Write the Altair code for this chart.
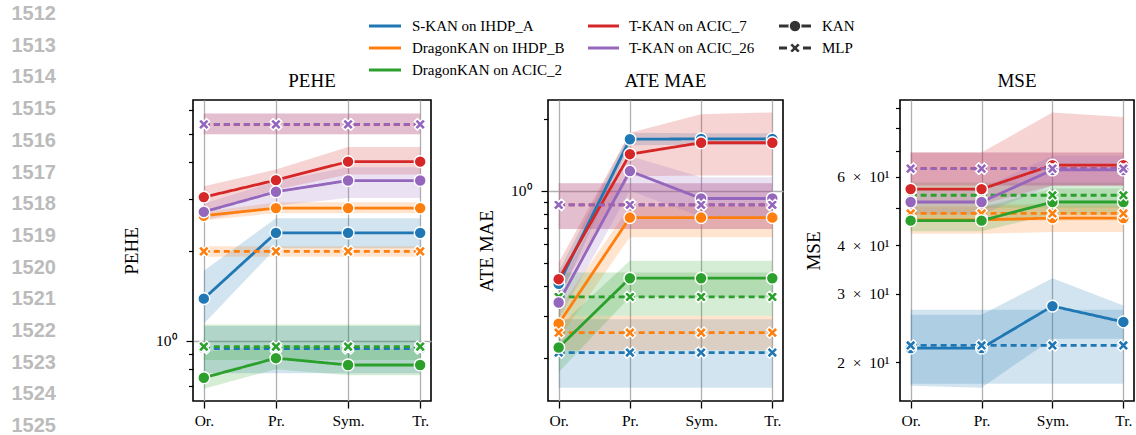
import altair as alt
import pandas as pd

STAGES = ["Or.", "Pr.", "Sym.", "Tr."]
DATASETS = [
    "S-KAN on IHDP_A",
    "DragonKAN on IHDP_B",
    "DragonKAN on ACIC_2",
    "T-KAN on ACIC_7",
    "T-KAN on ACIC_26",
]
COLORS = ["#1f77b4", "#ff7f0e", "#2ca02c", "#d62728", "#9467bd"]
MODELS = ["KAN", "MLP"]

# ---- PEHE (rows follow DATASETS, columns follow STAGES) ----
PEHE_KAN_MEAN = [
    [1.385, 2.31, 2.31, 2.31],
    [2.64, 2.80, 2.80, 2.80],
    [0.749, 0.872, 0.827, 0.827],
    [3.05, 3.48, 4.02, 4.02],
    [2.72, 3.18, 3.47, 3.47],
]
PEHE_KAN_LO = [
    [1.14, 2.05, 2.05, 2.05],
    [2.55, 2.69, 2.69, 2.69],
    [0.688, 0.80, 0.763, 0.763],
    [2.73, 3.23, 3.64, 3.64],
    [2.55, 2.85, 3.03, 3.03],
]
PEHE_KAN_HI = [
    [1.72, 2.59, 2.59, 2.59],
    [2.72, 2.93, 2.93, 2.93],
    [0.915, 0.97, 0.94, 0.94],
    [3.32, 3.78, 4.50, 4.50],
    [2.90, 3.45, 3.85, 3.85],
]
PEHE_MLP_MEAN = [[0.94] * 4, [2.00] * 4, [0.954] * 4, [5.37] * 4, [5.37] * 4]
PEHE_MLP_LO = [[0.775] * 4, [1.92] * 4, [0.86] * 4, [4.97] * 4, [4.97] * 4]
PEHE_MLP_HI = [[1.12] * 4, [2.08] * 4, [1.133] * 4, [5.84] * 4, [5.84] * 4]

# ---- ATE MAE ----
ATE_KAN_MEAN = [
    [0.408, 1.645, 1.65, 1.65],
    [0.278, 0.773, 0.773, 0.773],
    [0.221, 0.431, 0.431, 0.431],
    [0.427, 1.424, 1.59, 1.59],
    [0.341, 1.21, 0.929, 0.929],
]
ATE_KAN_LO = [
    [0.35, 1.55, 1.56, 1.56],
    [0.24, 0.64, 0.64, 0.64],
    [0.174, 0.36, 0.36, 0.36],
    [0.37, 1.15, 1.16, 1.16],
    [0.29, 1.00, 0.78, 0.78],
]
ATE_KAN_HI = [
    [0.46, 1.75, 1.74, 1.74],
    [0.32, 0.86, 0.86, 0.86],
    [0.27, 0.51, 0.51, 0.51],
    [0.50, 1.75, 2.09, 2.13],
    [0.40, 1.40, 1.14, 1.14],
]
ATE_MLP_MEAN = [[0.2105] * 4, [0.255] * 4, [0.36] * 4, [0.874] * 4, [0.874] * 4]
ATE_MLP_LO = [[0.15] * 4, [0.215] * 4, [0.30] * 4, [0.692] * 4, [0.692] * 4]
ATE_MLP_HI = [[0.29] * 4, [0.30] * 4, [0.455] * 4, [1.077] * 4, [1.077] * 4]

# ---- MSE ----
MSE_KAN_MEAN = [
    [21.75, 21.75, 27.9, 25.4],
    [46.5, 46.5, 47.0, 47.0],
    [46.3, 46.3, 51.7, 51.7],
    [55.8, 55.8, 64.3, 64.3],
    [51.7, 51.7, 62.5, 62.5],
]
MSE_KAN_LO = [
    [17.4, 17.2, 23.0, 23.0],
    [42.8, 42.8, 43.3, 43.3],
    [43.5, 43.5, 48.0, 48.0],
    [51.0, 51.0, 57.0, 57.0],
    [48.0, 48.0, 57.0, 57.0],
]
MSE_KAN_HI = [
    [26.5, 26.5, 32.9, 28.0],
    [51.0, 51.0, 51.0, 51.0],
    [50.0, 50.0, 56.0, 56.0],
    [69.3, 69.3, 87.9, 85.5],
    [56.0, 56.0, 68.0, 68.0],
]
MSE_MLP_MEAN = [[22.1] * 4, [48.3] * 4, [53.8] * 4, [63.0] * 4, [63.0] * 4]
MSE_MLP_LO = [[17.6] * 4, [46.3] * 4, [50.0] * 4, [57.0] * 4, [57.0] * 4]
MSE_MLP_HI = [[27.3] * 4, [50.3] * 4, [58.0] * 4, [69.3] * 4, [69.3] * 4]

LINE_NUMBERS = [str(n) for n in range(1512, 1526)]

METRICS = {
    "PEHE": {
        "KAN": (PEHE_KAN_MEAN, PEHE_KAN_LO, PEHE_KAN_HI),
        "MLP": (PEHE_MLP_MEAN, PEHE_MLP_LO, PEHE_MLP_HI),
    },
    "ATE MAE": {
        "KAN": (ATE_KAN_MEAN, ATE_KAN_LO, ATE_KAN_HI),
        "MLP": (ATE_MLP_MEAN, ATE_MLP_LO, ATE_MLP_HI),
    },
    "MSE": {
        "KAN": (MSE_KAN_MEAN, MSE_KAN_LO, MSE_KAN_HI),
        "MLP": (MSE_MLP_MEAN, MSE_MLP_LO, MSE_MLP_HI),
    },
}

rows = []
for metric, by_model in METRICS.items():
    for d_i, ds in enumerate(DATASETS):
        for model in MODELS:
            mean, lo, hi = by_model[model]
            for s_i, stage in enumerate(STAGES):
                rows.append(dict(metric=metric, dataset=ds, model=model, stage=stage,
                                 mean=mean[d_i][s_i], lo=lo[d_i][s_i], hi=hi[d_i][s_i]))
df = pd.DataFrame(rows)

SERIF = "Liberation Serif"
GRID = "#b0b0b0"
PLOT_H = 301
# filled "X" marker, in the unit square used by Vega symbol paths
X_PATH = ("M -0.5 -1 L 0 -0.5 L 0.5 -1 L 1 -0.5 L 0.5 0 L 1 0.5 L 0.5 1 "
          "L 0 0.5 L -0.5 1 L -1 0.5 L -0.5 0 L -1 -0.5 Z")
MARK_SIZES = [140, 125]

color = alt.Color("dataset:N", scale=alt.Scale(domain=DATASETS, range=COLORS), legend=None)


def panel(metric, domain, ticks, labels, major, width, title_x, label_pad):
    data = df[df.metric == metric]
    label_expr = " : ".join(f"datum.value == {v} ? '{t}'" for v, t in labels) + " : ''"

    x = alt.X("stage:N", sort=STAGES, scale=alt.Scale(type="point", padding=0.15),
              axis=alt.Axis(title=None, grid=True, gridColor=GRID, gridWidth=1.3,
                            domain=False, tickColor="black", tickSize=7, tickWidth=1.3,
                            labelFont=SERIF, labelFontSize=15.5, labelColor="black",
                            labelPadding=5, labelAngle=0))

    axis_kw = dict(values=ticks, labelExpr=label_expr, title=metric, titleFont=SERIF,
                   titleFontSize=19, titleFontWeight="normal", titleColor="black",
                   titleAngle=270, titleX=title_x, titleY=PLOT_H / 2, titleAlign="center",
                   titleBaseline="middle", domain=False, tickColor="black", tickWidth=1.2,
                   labelFont=SERIF, labelFontSize=15.5, labelColor="black",
                   labelPadding=label_pad, labelOverlap=False)
    if major is not None:
        test = f"datum.value == {major}"
        axis_kw.update(
            tickSize={"condition": {"test": test, "value": 7}, "value": 4.5},
            grid=True, gridColor=GRID, gridWidth=1.3,
            gridOpacity={"condition": {"test": test, "value": 1}, "value": 0},
        )
    else:
        axis_kw.update(tickSize=4.5, grid=False)
    yaxis = alt.Axis(**axis_kw)
    yscale = alt.Scale(type="log", domain=domain, nice=False)

    def y(field):
        return alt.Y(f"{field}:Q", scale=yscale, axis=yaxis)

    base = alt.Chart(data)
    band = base.mark_area(opacity=0.2).encode(
        x=x, y=y("lo"), y2="hi", color=color, detail="model:N")
    line = base.mark_line(strokeWidth=2.8).encode(
        x=x, y=y("mean"), color=color,
        strokeDash=alt.StrokeDash("model:N", scale=alt.Scale(domain=MODELS, range=[[1, 0], [6, 4]]),
                                  legend=None))
    pts = base.mark_point(filled=True, opacity=1, stroke="white", strokeWidth=1.4).encode(
        x=x, y=y("mean"), color=color,
        shape=alt.Shape("model:N", scale=alt.Scale(domain=MODELS, range=["circle", X_PATH]),
                        legend=None),
        size=alt.Size("model:N", scale=alt.Scale(domain=MODELS, range=MARK_SIZES), legend=None))

    return alt.layer(band, line, pts).properties(
        width=width, height=PLOT_H,
        title=alt.TitleParams(metric, font=SERIF, fontSize=19, fontWeight="normal",
                              color="black", anchor="middle", frame="group",
                              baseline="alphabetic", offset=-6),
        view=alt.ViewBackground(stroke="black", strokeWidth=1.6),
    )


SP = "\u2002"
p_pehe = panel("PEHE", [0.625, 6.49], [0.7, 0.8, 0.9, 1, 2, 3, 4, 5, 6],
               [(1, "10⁰")], 1, 238, -62, 10)
p_ate = panel("ATE MAE", [0.132, 2.40], [0.2, 0.3, 0.4, 0.5, 0.6, 0.7, 0.8, 0.9, 1, 2],
              [(1, "10⁰")], 1, 235, -62, 10)
p_mse = panel("MSE", [15.9, 94.6], [20, 30, 40, 50, 60, 70, 80, 90],
              [(20, f"2{SP}×{SP}10¹"), (30, f"3{SP}×{SP}10¹"),
               (40, f"4{SP}×{SP}10¹"), (60, f"6{SP}×{SP}10¹")],
              None, 234, -87, 6.5)

# ---- left margin: line numbers and the shared legend ----
SIDE_W = 75
one = pd.DataFrame({"k": [0]})
pin = alt.Chart(one).mark_rect(color="white").encode(
    x=alt.value(0), x2=alt.value(SIDE_W), y=alt.value(-99), y2=alt.value(336))

num_df = pd.DataFrame({"label": LINE_NUMBERS,
                       "py": [-86 + 31.7 * i for i in range(len(LINE_NUMBERS))]})
numbers = alt.Chart(num_df).mark_text(
    font="Liberation Sans", fontWeight="bold", fontSize=20, color="#bbbbbb",
    align="right", baseline="middle").encode(
    x=alt.value(55), y=alt.Y("py:Q", scale=None), text="label:N")

LEG_COLS = [(368, 400, 411), (587, 618, 628)]
LEG_ROWS = [-74, -52, -30]
LEG_SLOTS = [(0, 0), (0, 1), (0, 2), (1, 0), (1, 1)]
leg_df = pd.DataFrame([
    {"label": ds, "color": c,
     "x0": LEG_COLS[col][0], "x1": LEG_COLS[col][1], "xt": LEG_COLS[col][2],
     "py": LEG_ROWS[row]}
    for ds, c, (col, row) in zip(DATASETS, COLORS, LEG_SLOTS)
])
leg_lines = alt.Chart(leg_df).mark_rule(strokeWidth=3).encode(
    x=alt.X("x0:Q", scale=None), x2="x1:Q", y=alt.Y("py:Q", scale=None),
    color=alt.Color("color:N", scale=None))
leg_text = alt.Chart(leg_df).mark_text(
    font=SERIF, fontSize=15, align="left", baseline="middle", color="black").encode(
    x=alt.X("xt:Q", scale=None), y=alt.Y("py:Q", scale=None), text="label:N")

STYLE_GRAY = "#333333"
kan_rule = alt.Chart(one).mark_rule(strokeWidth=3, color=STYLE_GRAY).encode(
    x=alt.value(778), x2=alt.value(810), y=alt.value(LEG_ROWS[0]))
mlp_rule = alt.Chart(one).mark_rule(strokeWidth=3, color=STYLE_GRAY, strokeDash=[8, 16]).encode(
    x=alt.value(778), x2=alt.value(810), y=alt.value(LEG_ROWS[1]))
style_df = pd.DataFrame({"model": MODELS, "py": LEG_ROWS[:2]})
style_pts = alt.Chart(style_df).mark_point(
    filled=True, opacity=1, color=STYLE_GRAY, stroke="white", strokeWidth=1.4).encode(
    x=alt.value(794), y=alt.Y("py:Q", scale=None),
    shape=alt.Shape("model:N", scale=alt.Scale(domain=MODELS, range=["circle", X_PATH]),
                    legend=None),
    size=alt.Size("model:N", scale=alt.Scale(domain=MODELS, range=MARK_SIZES), legend=None))
style_text = alt.Chart(style_df).mark_text(
    font=SERIF, fontSize=15, align="left", baseline="middle", color="black").encode(
    x=alt.value(821), y=alt.Y("py:Q", scale=None), text="model:N")

side = alt.layer(pin, numbers, leg_lines, leg_text, kan_rule, mlp_rule,
                 style_pts, style_text).properties(
    width=SIDE_W, height=PLOT_H, view=alt.ViewBackground(stroke="transparent"))

chart = alt.hconcat(side, p_pehe, p_ate, p_mse, spacing=117, bounds="flush").resolve_scale(
    x="independent", y="independent"
).properties(padding=0, background="white")

chart.save("out.html", embed_options={"renderer": "svg", "actions": False})
